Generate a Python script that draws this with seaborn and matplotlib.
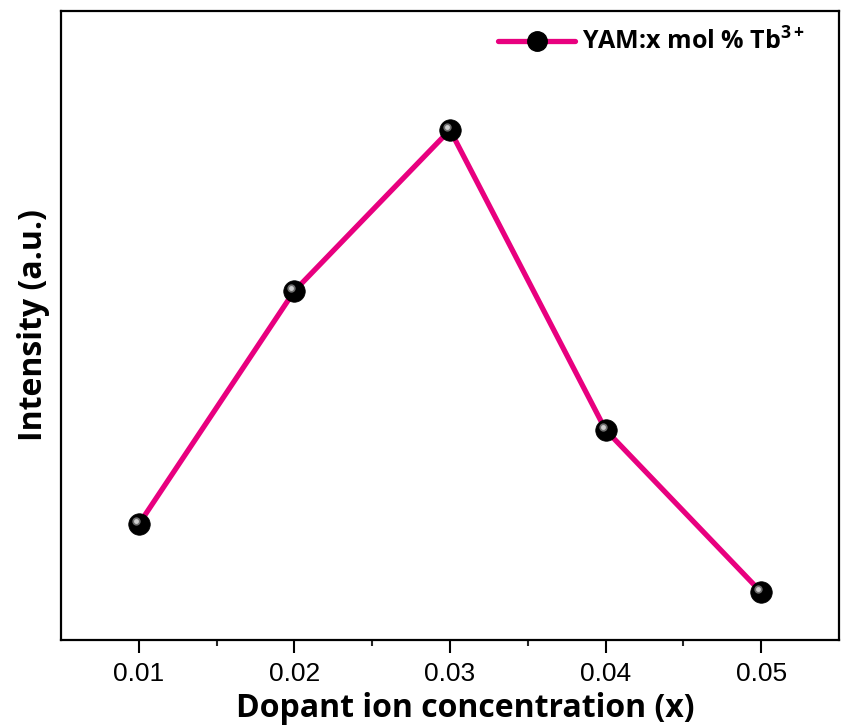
import matplotlib
matplotlib.use("Agg")
import matplotlib.pyplot as plt
import matplotlib.transforms as mtransforms
from matplotlib.lines import Line2D
import seaborn as sns
import pandas as pd

concentration = [0.01, 0.02, 0.03, 0.04, 0.05]
intensity = [18.4, 55.5, 81.1, 33.4, 7.6]
xticks = [0.01, 0.02, 0.03, 0.04, 0.05]
xtick_labels = ["0.01", "0.02", "0.03", "0.04", "0.05"]
series_label = "YAM:x mol % Tb$^{\\mathbf{3+}}$"

sns.set_theme(style="white")
plt.rcParams['font.family'] = ['Liberation Sans', 'DejaVu Sans']
plt.rcParams['mathtext.fontset'] = 'custom'
plt.rcParams['mathtext.bf'] = 'Open Sans:bold'
plt.rcParams['mathtext.rm'] = 'Open Sans:bold'
plt.rcParams['text.color'] = 'black'
plt.rcParams['axes.labelcolor'] = 'black'

df = pd.DataFrame({"x": concentration, "y": intensity})
pink = "#E8007F"

fig = plt.figure(figsize=(8.41, 7.27), dpi=100)
ax = fig.add_axes([61/841, 1 - 640/727, (839-61)/841, (640-11)/727])

sns.lineplot(data=df, x="x", y="y", ax=ax, color=pink, linewidth=3.8,
             marker="o", markersize=15.5, markerfacecolor="black",
             markeredgecolor="black", markeredgewidth=0.5)
hl = mtransforms.offset_copy(ax.transData, fig=fig, x=-2.2, y=2.2, units='points')
ax.plot(concentration, intensity, linestyle='none', marker='o', markersize=6,
        markerfacecolor='#6e6e6e', markeredgecolor='none', transform=hl)
ax.plot(concentration, intensity, linestyle='none', marker='o', markersize=3.5,
        markerfacecolor='#cfcfcf', markeredgecolor='none', transform=hl)

ax.set_xlim(0.005, 0.055)
ax.set_ylim(0, 100)
ax.set_xticks(xticks)
ax.set_xticklabels(xtick_labels)
ax.set_xticks([0.015, 0.025, 0.035, 0.045], minor=True)
ax.set_yticks([])
ax.tick_params(axis='x', which='major', direction='out', length=9, width=1.5,
               labelsize=19, pad=7, colors='black', bottom=True)
ax.tick_params(axis='x', which='minor', direction='out', length=4.5, width=1.5,
               bottom=True)
for s in ax.spines.values():
    s.set_linewidth(1.6)
    s.set_color('black')
    s.set_visible(True)

ax.set_xlabel("Dopant ion concentration (x)", fontsize=23, fontweight='bold',
              family='Open Sans', labelpad=3, color='black')
ax.xaxis.set_label_coords(0.52, -0.082)
ax.set_ylabel("Intensity (a.u.)", fontsize=23, fontweight='bold',
              family='Open Sans', labelpad=8, color='black')

h = Line2D([], [], color=pink, linewidth=3.8, marker='o', markersize=14,
           markerfacecolor='black', markeredgecolor='black')
leg = ax.legend([h], [series_label], loc='upper right', frameon=False,
                bbox_to_anchor=(1 - 17/778, 1.0),
                prop={'family': 'Open Sans', 'weight': 'bold', 'size': 18},
                handlelength=3.1, handletextpad=0.25, borderaxespad=0.3)
for t in leg.get_texts():
    t.set_color('black')

fig.savefig("out.png", dpi=100)
